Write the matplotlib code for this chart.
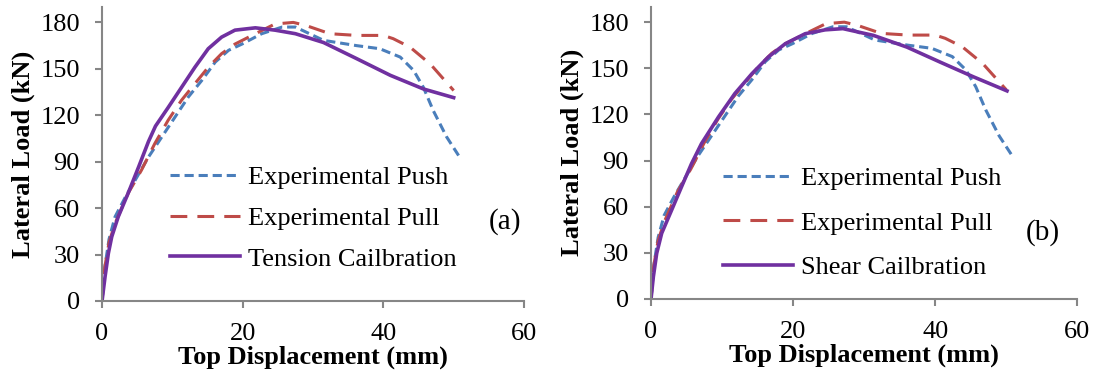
import matplotlib.pyplot as plt
import numpy as np

plt.rcParams['font.family'] = ['Liberation Serif', 'DejaVu Serif']

# experimental envelopes (same for both panels)
push_x = [0, 0.4, 1.0, 1.85, 3.3, 4.7, 6.6, 8.5, 10.4, 12.3, 14.2, 16.1, 18.0, 19.9, 22.7, 25.6,
          27.5, 31.5, 36.2, 39.5, 42.4, 44.3, 45.7, 47.1, 49.0, 50.7]
push_y = [0, 22, 40, 54.4, 67, 78, 93, 106, 119, 132, 142.6, 154.4, 162, 166, 172.7, 177,
          177, 168.4, 165, 163, 157.6, 149, 138, 123, 106, 94]
pull_x = [0, 0.4, 1.0, 1.85, 3.7, 5.6, 7.5, 9.4, 11.3, 13.2, 15.1, 17.0, 18.9, 21.8, 24.6,
          27.2, 29.0, 32.4, 36.2, 40.0, 41.4, 43.8, 46.7, 50.0]
pull_y = [0, 22, 38, 50, 69.5, 84.5, 101.7, 116.8, 129.7, 140.4, 151, 159.8, 166, 172.7, 179,
          180, 178, 172.7, 171.6, 171.6, 169.5, 164, 153, 136]

# calibrated models
tension_x = [0, 0.43, 0.9, 1.38, 2.3, 3.7, 5.2, 6.6, 7.6, 9.4, 11.3, 13.2, 15.1, 17.0, 18.9,
             21.8, 24.6, 27.5, 31.5, 36.2, 41.0, 45.7, 50.0]
tension_y = [0, 15.7, 30.8, 41.5, 54.4, 69.5, 86.6, 103, 113, 125, 138, 151, 163, 170.5, 175,
             176.5, 175, 172.7, 167, 156.6, 145.8, 137, 131.4]
shear_x = [0, 0.33, 0.8, 1.5, 2.9, 4.3, 5.7, 7.1, 9.5, 11.8, 14.2, 16.5, 18.9, 21.7, 24.5,
           27.0, 31.3, 36.0, 40.7, 45.4, 50.1]
shear_y = [0, 14.5, 29.7, 42.7, 57.8, 73, 88, 101, 118.4, 133.6, 146.5, 157.3, 166, 172.5, 175,
           175.8, 171.4, 163.8, 154, 144.4, 135.3]

panels = [
    # name, x, y, tag, axes rect, tag pos, legend anchor, legend spacing
    ('Tension Cailbration', tension_x, tension_y, '(a)', [0.0931, 0.2016, 0.385, 0.780],
     (0.955, 0.269), (0.161, 0.282), 0.66),
    ('Shear Cailbration', shear_x, shear_y, '(b)', [0.594, 0.207, 0.389, 0.775],
     (0.918, 0.226), (0.169, 0.26), 0.8),
]

fig = plt.figure(figsize=(10.96, 3.77), dpi=100)

for name, cx, cy, tag, pos, tag_xy, leg_xy, leg_sp in panels:
    ax = fig.add_axes(pos)
    ax.plot(push_x, push_y, color='#4a7ebb', lw=2.2, dashes=(3.0, 1.6), label='Experimental Push')
    ax.plot(pull_x, pull_y, color='#be4b48', lw=2.2, dashes=(5.5, 3.3), label='Experimental Pull')
    ax.plot(cx, cy, color='#7030a0', lw=2.6, label=name)

    ax.set_xlim(0, 60)
    ax.set_ylim(0, 190)
    ax.set_xticks([0, 20, 40, 60])
    ax.set_yticks(np.arange(0, 181, 30))
    for s in ['top', 'right']:
        ax.spines[s].set_visible(False)
    for s in ['left', 'bottom']:
        ax.spines[s].set_color('#868686')
        ax.spines[s].set_linewidth(1.5)
    ax.tick_params(colors='#868686', width=1.5, length=5, labelsize=19, labelcolor='black', pad=11)
    ax.set_xlabel('Top Displacement (mm)', fontsize=19, fontweight='bold', labelpad=0)
    ax.set_ylabel('Lateral Load (kN)', fontsize=19, fontweight='bold', labelpad=4)

    ax.legend(loc='center left', bbox_to_anchor=leg_xy, frameon=False, fontsize=19,
              handlelength=2.65, handletextpad=0.3, labelspacing=leg_sp,
              borderaxespad=0, borderpad=0)
    ax.text(tag_xy[0], tag_xy[1], tag, transform=ax.transAxes, fontsize=21, ha='center', va='center')

fig.savefig('out.png', dpi=100)
